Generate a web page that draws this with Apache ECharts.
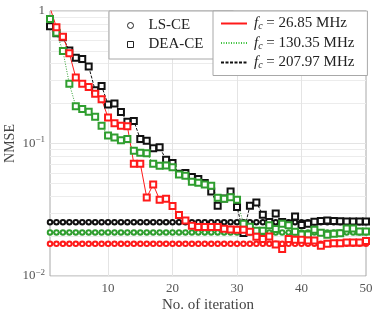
<!DOCTYPE html>
<html>
<head>
<meta charset="utf-8">
<script src="https://cdn.jsdelivr.net/npm/echarts@6/dist/echarts.min.js"></script>
<style>html,body{margin:0;padding:0;background:#fff}#c{width:374px;height:312px}</style>
</head>
<body>
<div id="c"></div>
<script>
const iterations = [1,2,3,4,5,6,7,8,9,10,11,12,13,14,15,16,17,18,19,20,21,22,23,24,25,26,27,28,29,30,31,32,33,34,35,36,37,38,39,40,41,42,43,44,45,46,47,48,49,50];
const xTickLabels = [10,20,30,40,50];
const yTickValues = [1,0.1,0.01];
const lsRed = [0.0175,0.0175,0.0175,0.0175,0.0175,0.0175,0.0175,0.0175,0.0175,0.0175,0.0175,0.0175,0.0175,0.0175,0.0175,0.0175,0.0175,0.0175,0.0175,0.0175,0.0175,0.0175,0.0175,0.0175,0.0175,0.0175,0.0175,0.0175,0.0175,0.0175,0.0175,0.0175,0.0175,0.0175,0.0175,0.0175,0.0175,0.0175,0.0175,0.0175,0.0175,0.0175,0.0175,0.0175,0.0175,0.0175,0.0175,0.0175,0.0175,0.0175];
const lsGreen = [0.0213,0.0213,0.0213,0.0213,0.0213,0.0213,0.0213,0.0213,0.0213,0.0213,0.0213,0.0213,0.0213,0.0213,0.0213,0.0213,0.0213,0.0213,0.0213,0.0213,0.0213,0.0213,0.0213,0.0213,0.0213,0.0213,0.0213,0.0213,0.0213,0.0213,0.0213,0.0213,0.0213,0.0213,0.0213,0.0213,0.0213,0.0213,0.0213,0.0213,0.0213,0.0213,0.0213,0.0213,0.0213,0.0213,0.0213,0.0213,0.0213,0.0213];
const lsBlack = [0.0255,0.0255,0.0255,0.0255,0.0255,0.0255,0.0255,0.0255,0.0255,0.0255,0.0255,0.0255,0.0255,0.0255,0.0255,0.0255,0.0255,0.0255,0.0255,0.0255,0.0255,0.0255,0.0255,0.0255,0.0255,0.0255,0.0255,0.0255,0.0255,0.0255,0.0255,0.0255,0.0255,0.0255,0.0255,0.0255,0.0255,0.0255,0.0255,0.0255,0.0255,0.0255,0.0255,0.0255,0.0255,0.0255,0.0255,0.0255,0.0255,0.0255];
const deaRed = [1.06,0.754,0.638,0.479,0.315,0.282,0.267,0.237,0.216,0.157,0.142,0.136,0.135,0.0704,0.0704,0.0391,0.0491,0.0376,0.0383,0.0337,0.0289,0.0262,0.0239,0.0234,0.0234,0.0234,0.0234,0.0227,0.0224,0.0223,0.0223,0.0216,0.0198,0.019,0.0199,0.0173,0.016,0.019,0.0188,0.0188,0.0185,0.0185,0.0169,0.0175,0.0177,0.0177,0.0179,0.0179,0.0179,0.0184];
const deaGreen = [0.87,0.684,0.499,0.282,0.191,0.182,0.174,0.159,0.136,0.115,0.111,0.106,0.108,0.0882,0.0852,0.0845,0.0704,0.068,0.0683,0.0662,0.0584,0.0571,0.0514,0.0506,0.0491,0.048,0.0389,0.0383,0.0393,0.0376,0.0248,0.0235,0.022,0.022,0.0242,0.0226,0.0248,0.0242,0.0216,0.0206,0.0206,0.0223,0.0212,0.0205,0.0208,0.021,0.0228,0.0228,0.0217,0.0217];
const deaBlack = [0.767,0.68,0.634,0.503,0.443,0.435,0.381,0.252,0.272,0.197,0.2,0.173,0.146,0.148,0.108,0.105,0.092,0.0935,0.0755,0.0712,0.0591,0.0598,0.0558,0.0539,0.0503,0.0435,0.0339,0.0385,0.0435,0.0331,0.0211,0.0339,0.0359,0.029,0.0256,0.0296,0.0256,0.0248,0.0281,0.0243,0.0248,0.0257,0.026,0.0262,0.026,0.0259,0.0258,0.0258,0.0258,0.0258];
const freqLabels = ['26.85 MHz','130.35 MHz','207.97 MHz'];
const minorY = [0.02,0.03,0.04,0.05,0.06,0.07,0.08,0.09,0.2,0.3,0.4,0.5,0.6,0.7,0.8,0.9];
const gridX = [10,20,30,40];

const RED = '#ff1a1a', GREEN = '#2f9e2f', BLACK = '#111111';
const FONT = 'Liberation Serif';
const pairs = arr => iterations.map((x, i) => [x, arr[i]]);

function ls(name, data, color) {
  return { name, type: 'line', data: pairs(data), symbol: 'emptyCircle', symbolSize: 4.5,
    lineStyle: { color, width: 1 }, itemStyle: { color, borderWidth: 1 }, z: 3, animation: false, clip: true };
}
function dea(name, data, color, ltype) {
  return { name, type: 'line', data: pairs(data), symbol: 'emptyRect', symbolSize: 6,
    lineStyle: { color, width: 1, type: ltype }, itemStyle: { color, borderWidth: 1 }, z: 4, animation: false, clip: true };
}

const chart = echarts.init(document.getElementById('c'), null, { renderer: 'canvas' });
const legendRich = {
  f: { fontFamily: FONT, fontStyle: 'italic', fontSize: 15, color: '#222' },
  c: { fontFamily: FONT, fontStyle: 'italic', fontSize: 10, color: '#222', padding: [6, 0, 0, 0] },
  t: { fontFamily: FONT, fontSize: 15, color: '#222' }
};
const noSym = { color: 'rgba(0,0,0,0)', borderColor: 'rgba(0,0,0,0)', borderWidth: 0 };
chart.setOption({
  animation: false,
  backgroundColor: '#fff',
  grid: { left: 50, right: 8, top: 11, bottom: 36, containLabel: false, outerBoundsMode: 'none',
    show: true, borderColor: '#a8a8a8', borderWidth: 1 },
  xAxis: {
    type: 'value', min: 1, max: 50,
    axisLine: { show: false }, axisTick: { show: false }, splitLine: { show: false },
    axisLabel: { customValues: xTickLabels, fontFamily: FONT, fontSize: 13, color: '#555', margin: 6 },
    name: 'No. of iteration', nameLocation: 'middle', nameGap: 22, nameMoveOverlap: false,
    nameTextStyle: { fontFamily: FONT, fontSize: 15, color: '#444' }
  },
  yAxis: {
    type: 'log', logBase: 10, min: 0.01, max: 1,
    axisLine: { show: false }, axisTick: { show: false },
    splitLine: { show: true, lineStyle: { color: '#e4e4e4', width: 1 } },
    axisLabel: {
      fontFamily: FONT, fontSize: 13, color: '#555', margin: 5,
      formatter: v => {
        if (Math.abs(v - yTickValues[0]) < 1e-9) return '1';
        if (Math.abs(v - yTickValues[1]) < 1e-9) return '{b|10}{s|−1}';
        if (Math.abs(v - yTickValues[2]) < 1e-9) return '{b|10}{s|−2}';
        return '';
      },
      rich: {
        b: { fontFamily: FONT, fontSize: 13, color: '#555' },
        s: { fontFamily: FONT, fontSize: 9, color: '#555', padding: [0, 0, 7, 0] }
      }
    },
    name: 'NMSE', nameLocation: 'middle', nameGap: 33, nameMoveOverlap: false,
    nameTextStyle: { fontFamily: FONT, fontSize: 14, color: '#444' }
  },
  legend: [
    {
      left: 109, top: 11, orient: 'vertical', itemGap: 4, itemWidth: 6, itemHeight: 6,
      padding: [7, 30, 7, 18], borderColor: '#a8a8a8', borderWidth: 1, borderRadius: 0, backgroundColor: '#fff',
      selectedMode: false,
      textStyle: { fontFamily: FONT, fontSize: 15, color: '#222', padding: [0, 0, 0, 10], lineHeight: 14 },
      data: [
        { name: 'LS-CE', icon: 'circle', itemStyle: { color: '#fff', borderColor: '#222', borderWidth: 1 } },
        { name: 'DEA-CE', icon: 'rect', itemStyle: { color: '#fff', borderColor: '#222', borderWidth: 1 } }
      ]
    },
    {
      left: 213, top: 11, orient: 'vertical', itemGap: 4, itemWidth: 26, itemHeight: 14,
      padding: [5, 13, 5, 7], borderColor: '#a8a8a8', borderWidth: 1, borderRadius: 0, backgroundColor: '#fff',
      selectedMode: false,
      textStyle: { fontFamily: FONT, fontSize: 15, color: '#222', padding: [0, 0, 0, 2], rich: legendRich },
      formatter: name => {
        const idx = ['r', 'g', 'k'].indexOf(name);
        return '{f|f}{c|c}{t| = ' + freqLabels[idx] + '}';
      },
      data: [
        { name: 'r', itemStyle: noSym },
        { name: 'g', itemStyle: noSym },
        { name: 'k', itemStyle: noSym }
      ]
    }
  ],
  series: [
    { name: 'gridlines', type: 'line', data: [], silent: true,
      markLine: { silent: true, symbol: 'none', z: 1, animation: false, label: { show: false },
        lineStyle: { color: '#ececec', width: 1, type: 'solid' },
        data: minorY.map(v => ({ yAxis: v })).concat(gridX.map(v => ({ xAxis: v, lineStyle: { color: '#e4e4e4' } }))) } },
    ls('LS-CE', lsBlack, BLACK),
    ls('LS-CE', lsGreen, GREEN),
    ls('LS-CE', lsRed, RED),
    dea('DEA-CE', deaBlack, BLACK, [3, 1.5]),
    dea('DEA-CE', deaGreen, GREEN, [1, 1.5]),
    dea('DEA-CE', deaRed, RED, 'solid'),
    { name: 'r', type: 'line', data: [], symbol: 'none', lineStyle: { color: RED, width: 1, type: 'solid' }, itemStyle: { color: RED } },
    { name: 'g', type: 'line', data: [], symbol: 'none', lineStyle: { color: '#3cc23c', width: 1, type: [1, 1.5] }, itemStyle: { color: '#3cc23c' } },
    { name: 'k', type: 'line', data: [], symbol: 'none', lineStyle: { color: BLACK, width: 1, type: [3, 1.5] }, itemStyle: { color: BLACK } }
  ]
});
</script>
</body>
</html>
